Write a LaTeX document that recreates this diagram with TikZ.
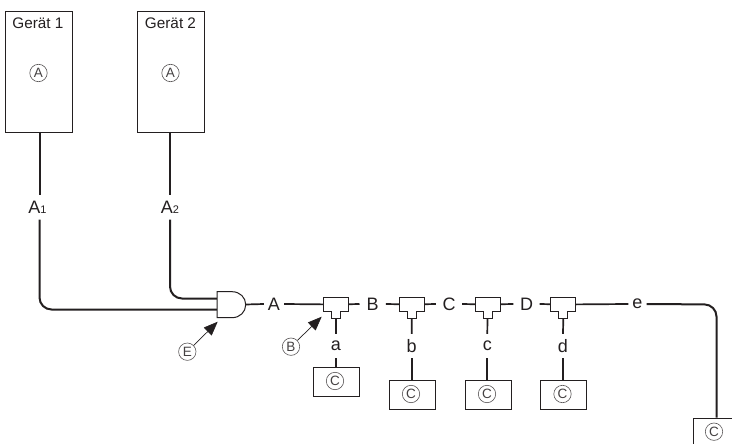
\documentclass[tikz,border=0pt]{standalone}
\usepackage{fontspec}
\setmainfont{Liberation Sans}
\usetikzlibrary{arrows.meta}
\definecolor{ink}{RGB}{35,31,32}
\tikzset{
  x=1pt,y=-1pt,
  every node/.style={text=ink},
  box/.style={draw=ink,line width=1pt,inner sep=0pt,anchor=north west},
  wire/.style={draw=ink,line width=2pt,rounded corners=12pt},
  thin wire/.style={draw=ink,line width=1.7pt},
  lab/.style={font=\fontsize{18}{18}\selectfont,inner sep=0pt,minimum width=#1,minimum height=24pt},
  lab/.default=20pt,
  mark circle/.style={circle,draw=ink!75,line width=.6pt,inner sep=0pt,minimum size=17.4pt,font=\fontsize{13.5}{13.5}\selectfont,text=ink!85},
  title/.style={font=\fontsize{15.3}{15.3}\selectfont,inner sep=0pt},
  pointer/.style={draw=ink,line width=.7pt,-{Triangle[length=14pt,width=11pt]}},
  tee/.style={draw=ink,line width=1pt,fill=white},
}
\newcommand{\teeat}[2]{%
  \path[tee,draw] (#1-12.5,#2-7) -- ++(25,0) -- ++(0,14) -- ++(-8,0) -- ++(0,7) -- ++(-9,0) -- ++(0,-7) -- ++(-8,0) -- cycle;}
\begin{document}
\begin{tikzpicture}
\useasboundingbox (0,0) rectangle (732,444);
% devices
\node[box,minimum width=67pt,minimum height=120.5pt] (g1) at (5,11.5) {};
\node[box,minimum width=67pt,minimum height=120.5pt] (g2) at (137,11.5) {};
\node[title] (g1t) at (38,23) {Gerät 1};
\node[title] (g2t) at (170.5,23) {Gerät 2};
\node[mark circle] (ca1) at (38.5,73) {A};
\node[mark circle] (ca2) at (170.5,73) {A};
% labels
\node[lab=20pt] (la1) at (37.5,207.5) {A\fontsize{11}{11}\selectfont 1};
\node[lab=20pt] (la2) at (170,207.5) {A\fontsize{11}{11}\selectfont 2};
\node[lab=20pt] (lA) at (274,304) {A};
\node[lab=26pt] (lB) at (372.7,304) {B};
\node[lab=26pt] (lC) at (449,304) {C};
\node[lab=26pt] (lD) at (526.5,304) {D};
\node[lab=18pt] (le) at (637.5,304) {e};
\node[lab=20pt] (la) at (336,346) {a};
\node[lab=20pt] (lb) at (411.7,346) {b};
\node[lab=20pt] (lc) at (487.3,346) {c};
\node[lab=20pt] (ld) at (563,346) {d};
% consumer boxes
\node[box,minimum width=46pt,minimum height=29pt] (ba) at (313.3,366.7) {};
\node[box,minimum width=46pt,minimum height=29pt] (bb) at (389,379.5) {};
\node[box,minimum width=46pt,minimum height=29pt] (bc) at (464.7,379.5) {};
\node[box,minimum width=46pt,minimum height=29pt] (bd) at (540.3,379.5) {};
\node[box,minimum width=46pt,minimum height=40pt] (be) at (692.5,417.7) {};
\node[mark circle] (cca) at (335,381) {C};
\node[mark circle] (ccb) at (411,394) {C};
\node[mark circle] (ccc) at (487,394) {C};
\node[mark circle] (ccd) at (562.5,394) {C};
\node[mark circle] (cce) at (714,431.7) {C};
% pointer marks
\node[mark circle] (ce) at (187.3,351.7) {E};
\node[mark circle] (cb) at (291,346.7) {B};
% junction coordinates
\coordinate (gw1) at (217,309.5);
\coordinate (gw2) at (217,298.5);
\coordinate (gout) at (245.7,304.5);
\coordinate (t1) at (336,304.5);
\coordinate (t2) at (411.8,304.5);
\coordinate (t3) at (487.5,304.5);
\coordinate (t4) at (563.3,304.5);
\coordinate (g1w) at (39.5,132);
\coordinate (g2w) at (170,132);
\coordinate (ew) at (716.5,417.7);
% wires
\draw[wire] (g1w) -- (g1w |- la1.north);
\draw[wire] (g1w |- la1.south) -- (39.5,309.5) -- (gw1);
\draw[wire] (g2w) -- (la2.north);
\draw[wire] (la2.south) -- (170,298.5) -- (gw2);
\draw[thin wire] (gout) -- (lA.west);
\draw[thin wire] (lA.east) -- (t1);
\draw[thin wire] (t1) -- (lB.west);
\draw[thin wire] (lB.east) -- (t2);
\draw[thin wire] (t2) -- (lC.west);
\draw[thin wire] (lC.east) -- (t3);
\draw[thin wire] (t3) -- (lD.west);
\draw[thin wire] (lD.east) -- (t4);
\draw[thin wire] (t4) -- (le.west);
\draw[wire] (le.east) -- (716.5,304.5) -- (ew);
\foreach \n/\x in {a/336,b/411.8,c/487.5,d/563.3}{
  \draw[thin wire] (\x,318) -- (l\n.north);
  \draw[thin wire] (l\n.south) -- (b\n.north -| l\n);
}
% gate
\path[tee] (217,291.7) -- (232,291.7) .. controls (240,291.7) and (245.7,297.5) .. (245.7,304.7) .. controls (245.7,311.9) and (240,317.7) .. (232,317.7) -- (217,317.7) -- cycle;
% tees
\teeat{336}{304.5}
\teeat{411.8}{304.5}
\teeat{487.5}{304.5}
\teeat{563.3}{304.5}
% pointers
\draw[pointer] (ce) -- (217.7,321.7);
\draw[pointer] (cb) -- (321.7,316.7);
\end{tikzpicture}
\end{document}
